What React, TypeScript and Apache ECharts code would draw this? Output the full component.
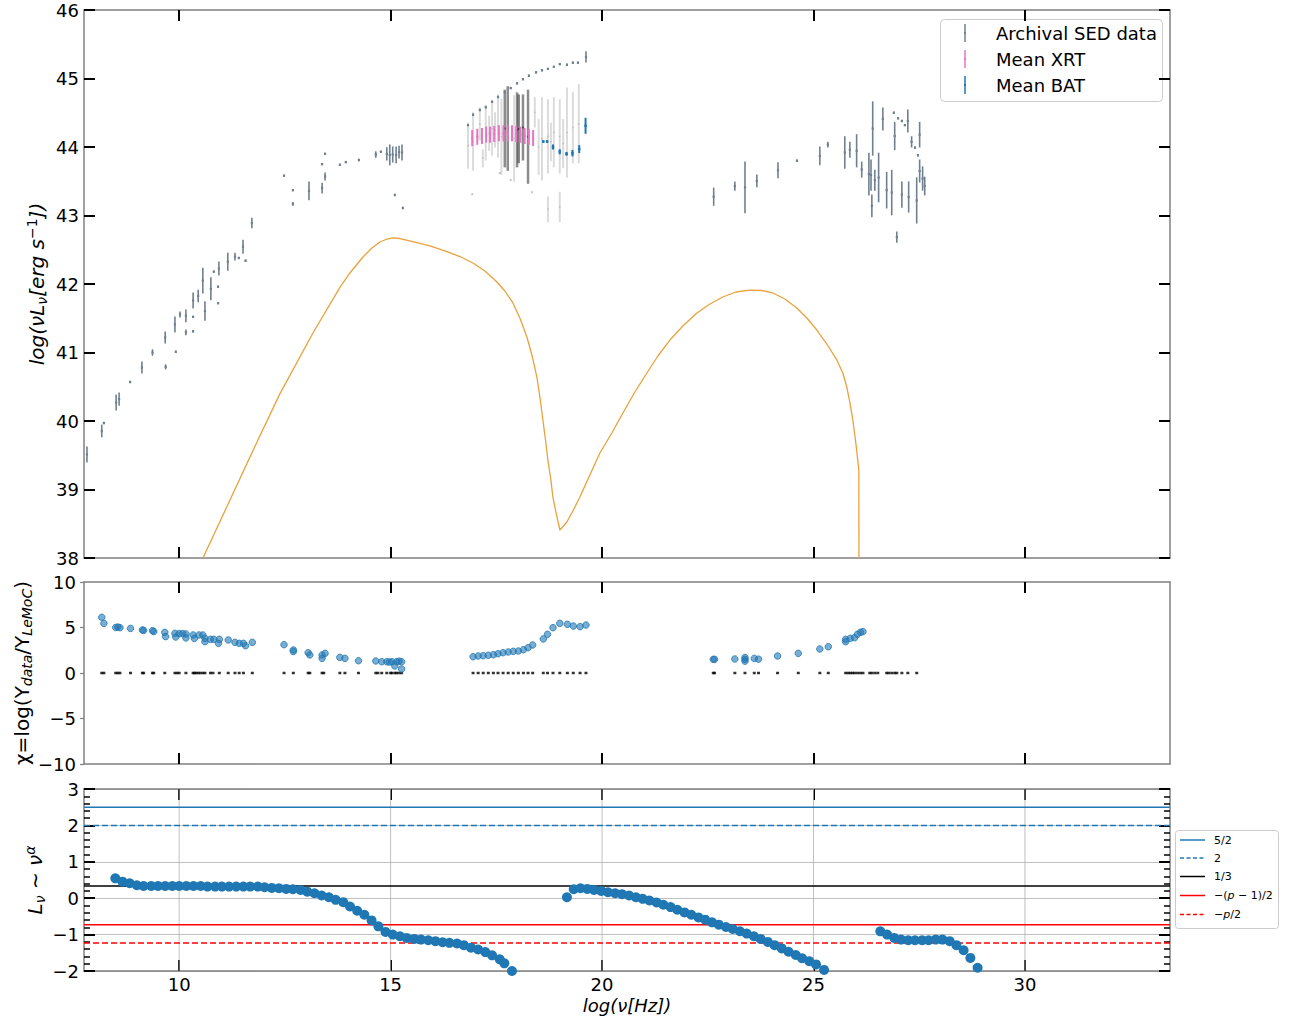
import React, { useEffect, useRef } from 'react';
import * as echarts from 'echarts';

const FONT = 'DejaVu Sans';
const SPINE = '#808080';
const X_MIN = 7.75;
const X_MAX = 33.43;
const xTicks = [10, 15, 20, 25, 30];

// ---------- Top panel: archival SED (x, low, high) ----------
const sedX = [7.82, 8.17, 8.22, 8.51, 8.58, 8.84, 9.12, 9.37, 9.67, 9.68, 9.90, 9.92, 10.02, 10.16, 10.16, 10.33, 10.33, 10.33, 10.45, 10.56, 10.61, 10.75, 10.82, 10.94, 10.92, 10.92, 11.15, 11.32, 11.41, 11.57, 11.51, 11.72,
  12.48, 12.69, 12.69, 13.07, 13.38, 13.38, 13.45, 13.45, 13.80, 13.94, 14.25, 14.65, 14.77, 14.91, 14.98, 15.05, 15.13, 15.20, 15.27, 15.10, 15.29,
  16.83, 16.95, 17.11, 17.25, 17.40, 17.54, 17.70, 17.84, 17.99, 18.13, 18.27, 18.44, 18.58, 18.72, 18.86, 19.00, 19.17, 19.31, 19.43, 19.62,
  22.64, 23.14, 23.38, 23.66, 24.16, 24.61, 25.15, 25.34, 25.74, 25.86, 26.02, 26.14, 26.31, 26.36, 26.40, 26.38, 26.45, 26.54, 26.64, 26.73, 26.85, 26.90, 27.00, 27.09, 27.16, 26.92, 26.97, 27.09, 27.23, 27.25, 27.32, 27.40, 27.47, 27.44, 27.51, 27.51, 27.58, 27.63];
const sedLo = [39.40, 39.77, 39.96, 40.16, 40.23, 40.56, 40.70, 40.96, 41.14, 40.76, 41.30, 41.00, 41.52, 41.45, 41.26, 41.65, 41.51, 41.30, 41.74, 41.87, 41.47, 41.77, 42.17, 42.13, 41.95, 41.71, 42.20, 42.35, 42.37, 42.33, 42.45, 42.82,
  43.57, 43.36, 43.15, 43.23, 43.74, 43.33, 43.89, 43.52, 43.73, 43.77, 43.80, 43.85, 43.92, 43.81, 43.74, 43.78, 43.77, 43.84, 43.81, 43.29, 43.10,
  44.31, 44.46, 44.53, 44.57, 44.65, 44.72, 44.79, 44.85, 44.92, 44.98, 45.03, 45.08, 45.11, 45.13, 45.16, 45.20, 45.19, 45.22, 45.22, 45.24,
  43.15, 43.37, 43.04, 43.42, 43.55, 43.79, 43.74, 44.00, 43.69, 43.85, 43.71, 43.56, 43.30, 43.37, 43.88, 42.98, 43.37, 43.20, 44.25, 43.11, 43.01, 44.49, 44.41, 44.37, 44.31, 43.96, 42.61, 43.12, 44.22, 43.05, 44.00, 43.98, 43.87, 42.89, 44.00, 43.49, 43.37, 43.30];
const sedHi = [39.62, 39.94, 39.98, 40.38, 40.41, 40.58, 40.86, 41.04, 41.30, 40.82, 41.52, 41.02, 41.59, 41.62, 41.33, 41.87, 41.53, 41.32, 41.91, 42.23, 41.74, 42.09, 42.19, 42.32, 41.97, 41.73, 42.45, 42.45, 42.39, 42.35, 42.64, 42.96,
  43.59, 43.38, 43.19, 43.49, 43.76, 43.47, 43.91, 43.62, 43.75, 43.79, 43.82, 43.93, 43.94, 43.99, 44.03, 44.00, 44.00, 44.01, 44.03, 43.31, 43.12,
  44.33, 44.48, 44.55, 44.59, 44.67, 44.74, 44.81, 44.87, 44.94, 45.00, 45.05, 45.10, 45.13, 45.15, 45.18, 45.22, 45.21, 45.24, 45.24, 45.39,
  43.40, 43.49, 43.78, 43.59, 43.77, 43.81, 44.00, 44.07, 44.15, 44.07, 44.18, 43.78, 43.91, 43.81, 44.66, 43.30, 43.66, 43.91, 44.57, 43.63, 43.66, 44.51, 44.43, 44.39, 44.33, 44.36, 42.76, 43.49, 44.54, 43.49, 44.15, 44.00, 43.89, 43.55, 44.36, 43.81, 43.71, 43.56];

// X-ray individual observations (faint and dense columns)
const cloudFaintX = [16.83, 16.95, 16.93, 17.11, 17.18, 17.25, 17.33, 17.40, 17.47, 17.54, 17.58, 17.62, 17.84, 17.92, 18.34, 18.41, 18.50, 18.58, 18.72, 18.72, 18.79, 18.86, 19.00, 19.00, 19.08, 19.17, 19.31, 19.45];
const cloudFaintLo = [43.69, 43.66, 43.30, 44.10, 43.71, 43.81, 43.95, 43.88, 44.00, 43.85, 43.61, 43.60, 43.51, 43.50, 43.33, 44.29, 43.60, 43.52, 43.62, 42.91, 43.80, 43.71, 43.62, 42.91, 43.70, 43.56, 43.77, 43.77];
const cloudFaintHi = [44.35, 44.50, 43.32, 44.57, 43.96, 44.61, 44.45, 44.66, 44.50, 44.76, 43.63, 44.70, 43.53, 44.75, 43.35, 44.72, 44.40, 44.72, 44.69, 43.27, 44.35, 44.72, 44.69, 43.34, 44.40, 44.86, 44.80, 44.91];
const cloudDenseX = [17.70, 17.77, 17.99, 18.03, 18.13, 18.25];
const cloudDenseLo = [43.71, 43.66, 43.71, 43.77, 43.81, 43.47];
const cloudDenseHi = [44.83, 44.88, 44.79, 44.76, 44.76, 44.83];

// Mean XRT
const xrtX = [16.93, 17.05, 17.16, 17.26, 17.35, 17.45, 17.56, 17.67, 17.77, 17.87, 17.97, 18.07, 18.17, 18.27, 18.37];
const xrtY = [44.13, 44.15, 44.16, 44.18, 44.18, 44.19, 44.20, 44.20, 44.20, 44.20, 44.19, 44.18, 44.16, 44.15, 44.13];
const xrtErr = [0.11, 0.11, 0.11, 0.11, 0.11, 0.11, 0.11, 0.11, 0.11, 0.11, 0.11, 0.11, 0.11, 0.11, 0.11];

// Mean BAT
const batX = [18.61, 18.70, 18.84, 19.00, 19.16, 19.30, 19.46, 19.61];
const batY = [44.08, 44.08, 44.00, 43.93, 43.90, 43.91, 43.97, 44.31];
const batErr = [0.01, 0.01, 0.03, 0.03, 0.02, 0.04, 0.05, 0.11];

// LeMoC model curve
const modelX = [10.563, 11.202, 11.863, 12.384, 13.164, 13.802, 14.038, 14.346, 14.559, 14.748, 14.890, 15.055, 15.220, 15.528, 15.930, 16.332, 16.639, 16.946, 17.230, 17.514, 17.703, 17.892, 18.057, 18.223, 18.341, 18.459, 18.530, 18.601, 18.672, 18.719, 18.790, 18.837, 18.908, 19.003,
  19.168, 19.310, 19.476, 19.712, 19.949, 20.232, 20.493, 20.777, 21.060, 21.320, 21.604, 21.911, 22.243, 22.550, 22.857, 23.164, 23.495, 23.779, 24.039, 24.322, 24.606, 24.842, 25.079, 25.315, 25.552, 25.693, 25.788, 25.859, 25.930, 26.001, 26.072, 26.075];
const modelY = [38.0, 38.847, 39.723, 40.400, 41.285, 41.950, 42.161, 42.394, 42.526, 42.613, 42.650, 42.672, 42.664, 42.618, 42.555, 42.472, 42.401, 42.307, 42.190, 42.029, 41.898, 41.723, 41.504, 41.226, 40.964, 40.642, 40.350, 40.015, 39.679, 39.431, 39.139, 38.891, 38.672, 38.409,
  38.526, 38.686, 38.891, 39.212, 39.533, 39.825, 40.117, 40.423, 40.701, 40.949, 41.182, 41.387, 41.577, 41.708, 41.810, 41.883, 41.912, 41.905, 41.869, 41.781, 41.650, 41.504, 41.328, 41.124, 40.891, 40.701, 40.496, 40.277, 40.015, 39.679, 39.285, 38.0];

// ---------- Middle panel: residuals ----------
const resX = [8.17, 8.22, 8.50, 8.55, 8.60, 8.85, 9.13, 9.16, 9.37, 9.40, 9.66, 9.68, 9.90, 9.92, 10.00, 10.08, 10.16, 10.16, 10.33, 10.36, 10.47, 10.56, 10.61, 10.61, 10.74, 10.82, 10.95, 10.93, 11.16, 11.32, 11.42, 11.52, 11.57, 11.73,
  12.48, 12.70, 12.70, 13.05, 13.09, 13.38, 13.38, 13.45, 13.80, 13.92, 14.24, 14.65, 14.79, 14.91, 14.97, 15.03, 15.14, 15.20, 15.26, 15.10, 15.26,
  16.95, 17.07, 17.19, 17.31, 17.43, 17.54, 17.66, 17.78, 17.90, 18.02, 18.14, 18.25, 18.36, 18.61, 18.71, 18.84, 19.00, 19.18, 19.32, 19.48, 19.62,
  22.63, 22.66, 23.14, 23.38, 23.38, 23.38, 23.60, 23.70, 24.15, 24.64, 25.15, 25.35, 25.76, 25.76, 25.87, 25.97, 26.04, 26.11, 26.17];
const resY = [6.12, 5.46, 5.00, 5.05, 4.98, 4.90, 4.73, 4.68, 4.65, 4.55, 4.47, 4.00, 4.36, 3.95, 4.32, 4.33, 4.29, 3.85, 4.18, 3.80, 4.18, 4.18, 3.81, 3.44, 3.70, 3.70, 3.70, 3.26, 3.63, 3.37, 3.26, 3.26, 3.00, 3.37,
  3.11, 2.53, 2.36, 2.23, 1.98, 1.98, 1.61, 2.16, 1.72, 1.61, 1.35, 1.32, 1.24, 1.24, 1.20, 1.24, 1.24, 1.30, 1.24, 0.77, 0.44,
  1.79, 1.87, 1.90, 1.95, 2.01, 2.12, 2.23, 2.31, 2.38, 2.42, 2.56, 2.78, 3.08, 3.74, 4.25, 4.98, 5.46, 5.35, 5.16, 5.09, 5.27,
  1.50, 1.50, 1.54, 1.30, 1.50, 1.70, 1.60, 1.52, 1.87, 2.16, 2.64, 2.89, 3.44, 3.70, 3.81, 3.88, 4.25, 4.47, 4.54];
const zeroX = [8.17, 8.22, 8.50, 8.55, 8.60, 8.85, 9.13, 9.16, 9.37, 9.40, 9.66, 9.90, 9.95, 10.00, 10.16, 10.33, 10.36, 10.40, 10.45, 10.50, 10.56, 10.61, 10.74, 10.80, 10.95, 11.16, 11.32, 11.42, 11.52, 11.73,
  12.48, 12.70, 13.05, 13.09, 13.38, 13.42, 13.80, 13.92, 14.24, 14.65, 14.70, 14.79, 14.91, 15.00, 15.03, 15.10, 15.14, 15.20, 15.26,
  16.95, 17.07, 17.19, 17.31, 17.43, 17.54, 17.66, 17.78, 17.90, 18.02, 18.14, 18.25, 18.36, 18.61, 18.71, 18.84, 19.00, 19.18, 19.32, 19.48, 19.62,
  22.63, 22.66, 23.14, 23.38, 23.60, 23.70, 24.15, 24.64, 25.15, 25.35, 25.76, 25.82, 25.87, 25.92, 25.97, 26.04, 26.11, 26.17, 26.33, 26.38, 26.45, 26.52, 26.73, 26.78, 26.85, 26.92, 26.97, 27.09, 27.23, 27.44];

// ---------- Bottom panel: local spectral index ----------
const alphaX = [8.49, 8.66, 8.83, 9.00, 9.16, 9.34, 9.50, 9.67, 9.84, 10.00, 10.17, 10.34, 10.51, 10.67, 10.85, 11.01, 11.18, 11.35, 11.52, 11.68, 11.86, 12.02, 12.19, 12.36, 12.53, 12.69, 12.87, 13.03, 13.20, 13.37, 13.54, 13.70, 13.88, 14.04, 14.21, 14.38, 14.55, 14.71, 14.88, 15.05, 15.22, 15.38, 15.56, 15.72, 15.89, 16.06, 16.23, 16.39, 16.57, 16.73, 16.90, 17.07, 17.24, 17.40, 17.58, 17.69, 17.87,
  19.17, 19.33, 19.49, 19.65, 19.81, 19.98, 20.14, 20.31, 20.47, 20.64, 20.80, 20.96, 21.12, 21.29, 21.45, 21.62, 21.78, 21.95, 22.11, 22.28, 22.44, 22.60, 22.76, 22.93, 23.09, 23.26, 23.42, 23.59, 23.75, 23.92, 24.08, 24.25, 24.41, 24.58, 24.73, 24.90, 25.06, 25.25,
  26.58, 26.74, 26.91, 27.07, 27.24, 27.40, 27.57, 27.72, 27.89, 28.05, 28.22, 28.38, 28.55, 28.71, 28.88];
const alphaY = [0.545, 0.455, 0.41, 0.355, 0.336, 0.336, 0.336, 0.336, 0.336, 0.336, 0.336, 0.336, 0.336, 0.318, 0.318, 0.318, 0.318, 0.318, 0.318, 0.318, 0.318, 0.30, 0.282, 0.273, 0.255, 0.245, 0.227, 0.18, 0.136, 0.073, 0.027, -0.045, -0.11, -0.227, -0.345, -0.455, -0.61, -0.773, -0.927, -1.0, -1.045, -1.09, -1.118, -1.136, -1.155, -1.18, -1.21, -1.227, -1.245, -1.29, -1.36, -1.41, -1.48, -1.57, -1.68, -1.79, -2.0,
  0.027, 0.245, 0.273, 0.255, 0.227, 0.2, 0.164, 0.136, 0.11, 0.073, 0.027, -0.018, -0.064, -0.118, -0.18, -0.245, -0.318, -0.39, -0.455, -0.527, -0.59, -0.664, -0.727, -0.79, -0.845, -0.909, -0.973, -1.045, -1.118, -1.2, -1.29, -1.38, -1.47, -1.56, -1.65, -1.73, -1.82, -1.97,
  -0.91, -1.0, -1.09, -1.136, -1.155, -1.155, -1.155, -1.155, -1.136, -1.136, -1.18, -1.29, -1.43, -1.64, -1.91];

const P_INDEX = 2.46;
const refNames = ['5/2', '2', '1/3', '−(p − 1)/2', '−p/2'];
const refValues = [2.5, 2, 1 / 3, -(P_INDEX - 1) / 2, -P_INDEX / 2];
const refColors = ['#1f77b4', '#1f77b4', '#000000', '#ff0000', '#ff0000'];
const refDashed = [false, true, false, false, true];

const legendNames = ['Archival SED data', 'Mean XRT', 'Mean BAT'];
const legendColors = ['#708090', '#e377c2', '#1f77b4'];

const fmtMinus = (v: number) => (v < 0 ? '−' + Math.abs(v) : String(v));

function errRender(color: string, width: number, dot: number) {
  return (params: any, api: any) => {
    const x = api.value(0);
    const lo = api.value(1);
    const hi = api.value(2);
    const mid = api.value(3);
    const p1 = api.coord([x, lo]);
    const p2 = api.coord([x, hi]);
    const pm = api.coord([x, mid]);
    return {
      type: 'group',
      children: [
        { type: 'line', shape: { x1: p1[0], y1: p1[1] + 0.5, x2: p2[0], y2: p2[1] - 0.5 }, style: { stroke: color, lineWidth: width } },
        { type: 'rect', shape: { x: pm[0] - dot / 2, y: pm[1] - dot / 2, width: dot, height: dot }, style: { fill: color } },
      ],
    };
  };
}

function mkX(gridIndex: number, position: string, showLabel: boolean) {
  return {
    type: 'value', gridIndex, position, min: X_MIN, max: X_MAX,
    axisLine: { show: true, onZero: false, lineStyle: { color: SPINE, width: 1.5 } },
    axisTick: { show: true, inside: true, length: 11, customValues: xTicks, lineStyle: { color: '#000', width: 2 } },
    axisLabel: { show: showLabel, customValues: xTicks, margin: 4, fontSize: 18, fontFamily: FONT, color: '#000' },
    splitLine: { show: false },
  };
}

export default function App() {
  const ref = useRef<HTMLDivElement>(null);
  useEffect(() => {
    if (!ref.current) return;
    const chart = echarts.init(ref.current, null, { renderer: 'svg' });

    const sedData = sedX.map((x, i) => [x, sedLo[i], sedHi[i], (sedLo[i] + sedHi[i]) / 2]);
    const faintData = cloudFaintX.map((x, i) => [x, cloudFaintLo[i], cloudFaintHi[i], (cloudFaintLo[i] + cloudFaintHi[i]) / 2]);
    const denseData = cloudDenseX.map((x, i) => [x, cloudDenseLo[i], cloudDenseHi[i], (cloudDenseLo[i] + cloudDenseHi[i]) / 2]);
    const xrtData = xrtX.map((x, i) => [x, xrtY[i] - xrtErr[i], xrtY[i] + xrtErr[i], xrtY[i]]);
    const batData = batX.map((x, i) => [x, batY[i] - batErr[i], batY[i] + batErr[i], batY[i]]);

    const errSeries = (name: string, data: any[], color: string, width: number, dot: number, z: number) => ({
      type: 'custom', name, xAxisIndex: 0, yAxisIndex: 0, data, clip: true, z,
      encode: { x: 0, y: [1, 2] },
      renderItem: errRender(color, width, dot),
      silent: true,
    });

    const refSeries = refValues.map((v, i) => ({
      type: 'line', name: refNames[i], xAxisIndex: 4, yAxisIndex: 4,
      data: [[X_MIN, v], [X_MAX, v]], showSymbol: false, symbol: 'none', z: 2, silent: true,
      lineStyle: { color: refColors[i], width: 1.5, type: refDashed[i] ? [6, 3] : 'solid' },
    }));
    const vGridSeries = xTicks.map((v) => ({
      type: 'line', xAxisIndex: 4, yAxisIndex: 4, data: [[v, -2], [v, 3]], showSymbol: false, symbol: 'none', z: 1, silent: true,
      lineStyle: { color: '#b0b0b0', width: 0.8 },
    }));

    const italic = { fontFamily: FONT, fontStyle: 'italic', fontSize: 20, color: '#000' };
    const normal = { fontFamily: FONT, fontSize: 20, color: '#000' };
    const sub = { fontFamily: FONT, fontStyle: 'italic', fontSize: 14, color: '#000', padding: [9, 0, 0, 0] };
    const sup = { fontFamily: FONT, fontSize: 14, color: '#000', padding: [0, 0, 11, 0] };
    const supI = { fontFamily: FONT, fontStyle: 'italic', fontSize: 14, color: '#000', padding: [0, 0, 11, 0] };

    const legendChildren: any[] = [
      { type: 'rect', shape: { x: 940.5, y: 19.5, width: 222, height: 82, r: 4 }, style: { fill: 'rgba(255,255,255,0.8)', stroke: '#cccccc', lineWidth: 1 } },
    ];
    legendNames.forEach((n, i) => {
      const cy = 33 + i * 26;
      legendChildren.push({ type: 'line', shape: { x1: 965, y1: cy - 9, x2: 965, y2: cy + 9 }, style: { stroke: legendColors[i], lineWidth: 1.5 } });
      legendChildren.push({ type: 'rect', shape: { x: 964, y: cy - 1, width: 2, height: 2 }, style: { fill: legendColors[i] } });
      legendChildren.push({ type: 'text', x: 996, y: cy, style: { text: n, font: `18px "${FONT}"`, fill: '#000', align: 'left', verticalAlign: 'middle' } });
    });
    legendChildren.push({ type: 'rect', shape: { x: 1175.5, y: 830.5, width: 103, height: 98, r: 3 }, style: { fill: 'rgba(255,255,255,0.8)', stroke: '#cccccc', lineWidth: 1 } });
    const leg2Rows = [840, 858, 876.5, 895.5, 914.5];
    const leg2Texts = ['{n|5/2}', '{n|2}', '{n|1/3}', '{n|−(}{i|p}{n| − 1)/2}', '{n|−}{i|p}{n|/2}'];
    refValues.forEach((_, i) => {
      const cy = leg2Rows[i];
      legendChildren.push({ type: 'line', shape: { x1: 1180, y1: cy, x2: 1205, y2: cy }, style: { stroke: refColors[i], lineWidth: 1.5, lineDash: refDashed[i] ? [4, 2.5] : null } });
      legendChildren.push({
        type: 'text', x: 1214, y: cy,
        style: {
          text: leg2Texts[i], align: 'left', verticalAlign: 'middle',
          rich: {
            n: { fontFamily: FONT, fontSize: 11, color: '#000' },
            i: { fontFamily: FONT, fontSize: 11, fontStyle: 'italic', color: '#000' },
          },
        },
      });
    });

    const labels: any[] = [
      {
        type: 'text', x: 37, y: 284, rotation: Math.PI / 2,
        style: { text: '{i|log(νL}{s|ν}{i|[erg s}{p|−1}{i|])}', align: 'center', verticalAlign: 'middle', rich: { i: italic, s: sub, p: sup } },
      },
      {
        type: 'text', x: 22, y: 673, rotation: Math.PI / 2,
        style: { text: '{n|χ=log(Y}{s|data}{n|/Y}{s|LeMoC}{n|)}', align: 'center', verticalAlign: 'middle', rich: { n: normal, s: sub } },
      },
      {
        type: 'text', x: 35, y: 880, rotation: Math.PI / 2,
        style: { text: '{i|L}{s|ν}{n| ∼ }{i|ν}{p|α}', align: 'center', verticalAlign: 'middle', rich: { i: italic, n: normal, s: sub, p: supI } },
      },
      {
        type: 'text', x: 627, y: 1005,
        style: { text: '{i|log(ν[Hz])}', align: 'center', verticalAlign: 'middle', rich: { i: { ...italic, fontSize: 18 } } },
      },
    ];

    const option: any = {
      animation: false,
      backgroundColor: '#ffffff',
      grid: [
        { left: 84, top: 10, width: 1086, height: 548 },
        { left: 84, top: 582, width: 1086, height: 182 },
        { left: 84, top: 789, width: 1086, height: 182 },
      ],
      xAxis: [
        mkX(0, 'bottom', false),
        mkX(0, 'top', false),
        mkX(1, 'bottom', false),
        mkX(1, 'top', false),
        mkX(2, 'bottom', true),
        mkX(2, 'top', false),
      ],
      yAxis: [
        {
          type: 'value', gridIndex: 0, position: 'left', min: 38, max: 46, interval: 1,
          axisLine: { show: true, onZero: false, lineStyle: { color: SPINE, width: 1.5 } },
          axisTick: { show: true, inside: true, length: 11, lineStyle: { color: '#000', width: 2 } },
          axisLabel: { margin: 5, fontSize: 18, fontFamily: FONT, color: '#000' },
          splitLine: { show: false },
        },
        {
          type: 'value', gridIndex: 0, position: 'right', min: 38, max: 46, interval: 1,
          axisLine: { show: true, onZero: false, lineStyle: { color: SPINE, width: 1.5 } },
          axisTick: { show: true, inside: true, length: 11, lineStyle: { color: '#000', width: 2 } },
          axisLabel: { show: false },
          splitLine: { show: false },
        },
        {
          type: 'value', gridIndex: 1, position: 'left', min: -10, max: 10, interval: 5,
          axisLine: { show: true, onZero: false, lineStyle: { color: SPINE, width: 1.5 } },
          axisTick: { show: true, inside: false, length: 4, lineStyle: { color: SPINE, width: 1.2 } },
          axisLabel: { margin: 8, fontSize: 18, fontFamily: FONT, color: '#000', formatter: fmtMinus },
          splitLine: { show: false },
        },
        {
          type: 'value', gridIndex: 1, position: 'right', min: -10, max: 10, interval: 5,
          axisLine: { show: true, onZero: false, lineStyle: { color: SPINE, width: 1.5 } },
          axisTick: { show: false }, axisLabel: { show: false }, splitLine: { show: false },
        },
        {
          type: 'value', gridIndex: 2, position: 'left', min: -2, max: 3, interval: 1,
          axisLine: { show: true, onZero: false, lineStyle: { color: SPINE, width: 1.5 } },
          axisTick: { show: true, inside: true, length: 11, lineStyle: { color: '#000', width: 2 } },
          minorTick: { show: true, splitNumber: 5, length: 6, lineStyle: { color: '#000', width: 1.5 } },
          axisLabel: { margin: 5, fontSize: 18, fontFamily: FONT, color: '#000', formatter: fmtMinus },
          splitLine: { show: true, lineStyle: { color: '#b0b0b0', width: 0.8 } },
        },
        {
          type: 'value', gridIndex: 2, position: 'right', min: -2, max: 3, interval: 1,
          axisLine: { show: true, onZero: false, lineStyle: { color: SPINE, width: 1.5 } },
          axisTick: { show: true, inside: true, length: 11, lineStyle: { color: '#000', width: 2 } },
          minorTick: { show: true, splitNumber: 5, length: 6, lineStyle: { color: '#000', width: 1.5 } },
          axisLabel: { show: false },
          splitLine: { show: false },
        },
      ],
      series: [
        errSeries('X-ray observations (faint)', faintData, 'rgba(0,0,0,0.14)', 2, 1.5, 2),
        errSeries('X-ray observations (dense)', denseData, 'rgba(0,0,0,0.45)', 2.5, 2, 2),
        errSeries('Archival SED data', sedData, '#708090', 1.6, 2.2, 3),
        errSeries('Mean XRT', xrtData, '#e377c2', 2, 2, 4),
        errSeries('Mean BAT', batData, '#1f77b4', 2, 2.5, 4),
        {
          type: 'line', name: 'LeMoC model', xAxisIndex: 0, yAxisIndex: 0,
          data: modelX.map((x, i) => [x, modelY[i]]), showSymbol: false, symbol: 'none', clip: true, z: 3,
          lineStyle: { color: '#E9A23B', width: 1.3, join: 'round' }, silent: true,
        },
        {
          type: 'scatter', name: 'zero', xAxisIndex: 2, yAxisIndex: 2,
          data: zeroX.map((x) => [x, 0]), symbol: 'rect', symbolSize: [3, 2.5], itemStyle: { color: '#000' }, z: 3, silent: true,
        },
        {
          type: 'scatter', name: 'residuals', xAxisIndex: 2, yAxisIndex: 2,
          data: resX.map((x, i) => [x, resY[i]]), symbol: 'circle', symbolSize: 6.5,
          itemStyle: { color: 'rgba(31,119,180,0.75)', borderColor: '#1f77b4', borderWidth: 1 }, z: 4, silent: true,
        },
        ...vGridSeries,
        ...refSeries,
        {
          type: 'scatter', name: 'alpha', xAxisIndex: 4, yAxisIndex: 4,
          data: alphaX.map((x, i) => [x, alphaY[i]]), symbol: 'circle', symbolSize: 10, clip: true,
          itemStyle: { color: '#1f77b4', opacity: 1 }, z: 4, silent: true,
        },
      ],
      graphic: [...legendChildren, ...labels],
    };
    chart.setOption(option);
    return () => chart.dispose();
  }, []);

  return <div ref={ref} style={{ position: 'fixed', left: 0, top: 0, width: 1290, height: 1023, background: '#fff' }} />;
}
